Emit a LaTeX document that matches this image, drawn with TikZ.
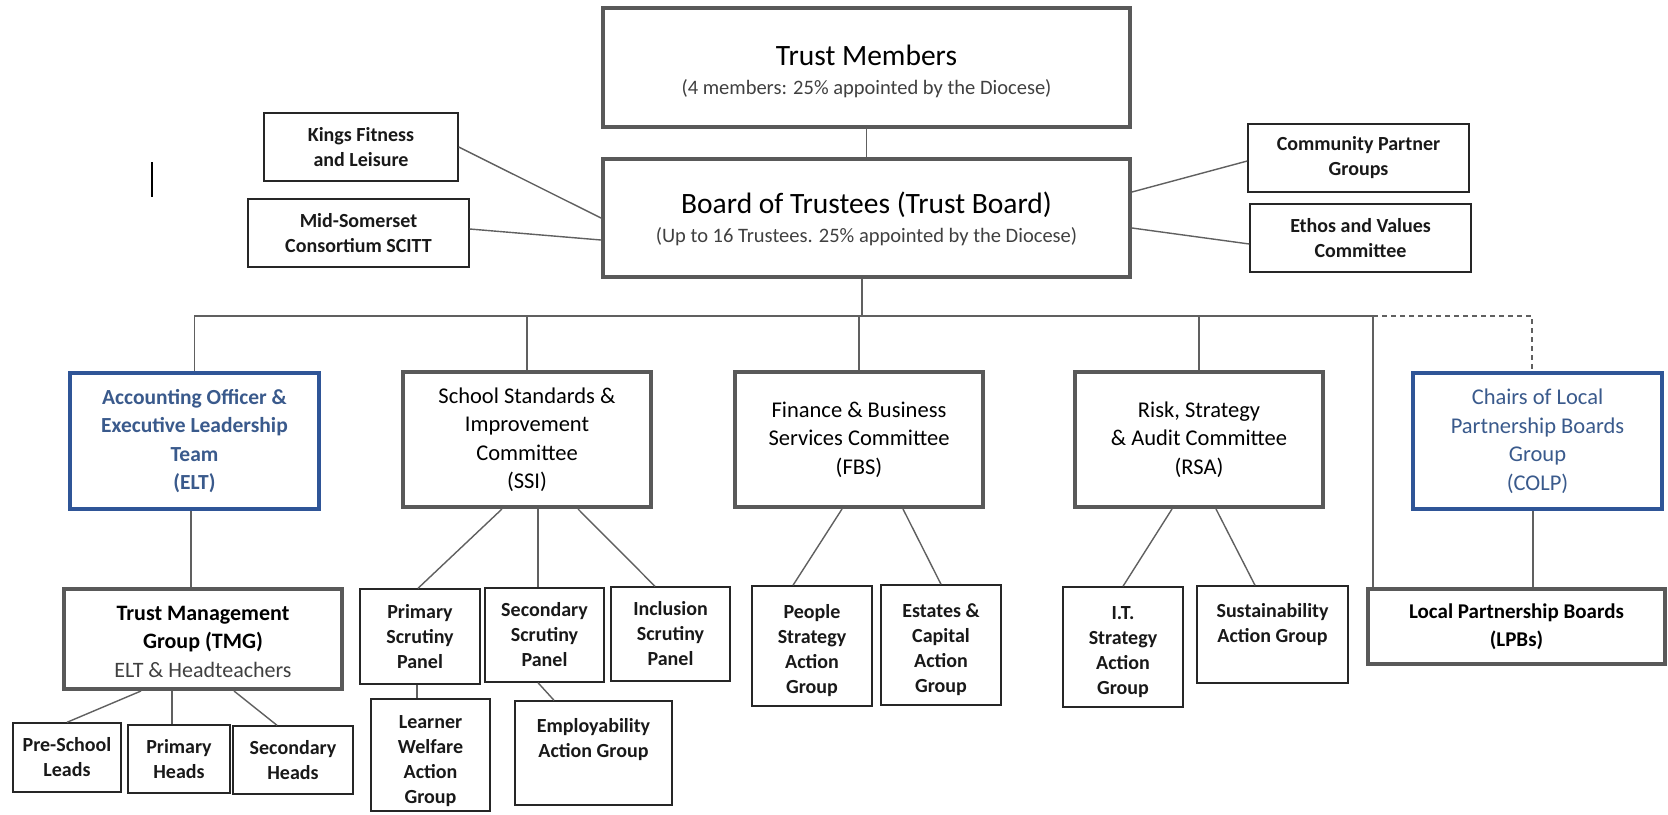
\documentclass[tikz,border=0pt]{standalone}
\usepackage{fontspec}
\setmainfont{Carlito}
\definecolor{boxgray}{HTML}{595959}
\definecolor{elblue}{HTML}{2F5597}
\definecolor{eltext}{HTML}{3A5A8C}
\definecolor{subgray}{HTML}{404040}
\definecolor{lineg}{HTML}{606060}
\begin{document}
\begin{tikzpicture}[x=1pt,y=-1pt,
  thickbox/.style={draw=boxgray, line width=4pt, inner sep=0pt, align=center, text=black},
  bluebox/.style={draw=elblue, line width=3.5pt, inner sep=0pt, align=center, text=eltext},
  smallbox/.style={draw=black!85, line width=1.4pt, inner sep=0pt, align=center, text=black!90, font=\bfseries\fontsize{20}{25}\selectfont},
  midfont/.style={font=\fontsize{22.5}{28.5}\selectfont},
  conn/.style={draw=lineg, line width=1.4pt},
  dashconn/.style={draw=lineg, line width=1.4pt, dashed, dash pattern=on 5pt off 4pt},
]
\useasboundingbox[fill=white] (0,0) rectangle (1668,814);

% top level
\node[thickbox, minimum width=527pt, minimum height=119pt, font=\fontsize{20.5}{29}\selectfont] (tm) at (866.5,67.5)
  {{\fontsize{29.5}{29}\selectfont\rule{0pt}{28pt}Trust Members}\\{\color{subgray}(4 members: 25\% appointed by the Diocese)}};
\node[thickbox, minimum width=527pt, minimum height=118pt, font=\fontsize{20.5}{29}\selectfont] (bot) at (866.5,218)
  {{\fontsize{29.5}{29}\selectfont\rule{0pt}{24pt}Board of Trustees (Trust Board)}\\{\color{subgray}(Up to 16 Trustees. 25\% appointed by the Diocese)}};

% side boxes
\node[smallbox, minimum width=194pt, minimum height=68pt] (kings) at (361,147) {Kings Fitness\\and Leisure};
\node[smallbox, minimum width=221pt, minimum height=68pt] (mid) at (358.5,233) {Mid-Somerset\\Consortium SCITT};
\node[smallbox, minimum width=221pt, minimum height=68pt] (comm) at (1358.5,158) {Community Partner\\Groups};
\node[smallbox, minimum width=221pt, minimum height=68pt] (ethos) at (1360.5,238) {Ethos and Values\\Committee};

% stray mark
\coordinate (strayA) at (152,162);
\coordinate (strayB) at (152,197);
\draw[black, line width=1.6pt] (strayA) -- (strayB);

% second level
\node[bluebox, minimum width=249pt, minimum height=136pt, font=\bfseries\fontsize{21.5}{28.5}\selectfont] (elt) at (194.5,441)
  {Accounting Officer \&\\Executive Leadership\\Team\\(ELT)};
\node[thickbox, midfont, minimum width=248pt, minimum height=135pt] (ssi) at (527,439.5)
  {School Standards \&\\Improvement\\Committee\\(SSI)};
\node[thickbox, midfont, minimum width=248pt, minimum height=135pt] (fbs) at (859,439.5)
  {Finance \& Business\\Services Committee\\(FBS)};
\node[thickbox, midfont, minimum width=248pt, minimum height=135pt] (rsa) at (1199,439.5)
  {Risk, Strategy\\\& Audit Committee\\(RSA)};
\node[bluebox, midfont, minimum width=249pt, minimum height=136pt] (colp) at (1537.5,441)
  {Chairs of Local\\Partnership Boards\\Group\\(COLP)};

% third level
\node[thickbox, minimum width=278pt, minimum height=100pt, font=\bfseries\fontsize{22}{28.5}\selectfont] (tmg) at (203,639)
  {\rule{0pt}{20pt}Trust Management\\Group (TMG)\\{\mdseries\color{subgray}ELT \& Headteachers}};
\node[smallbox, minimum width=108pt, minimum height=69pt] (pres) at (67,757.5) {Pre-School\\Leads};
\node[smallbox, minimum width=102pt, minimum height=68pt] (primh) at (179,759) {Primary\\Heads};
\node[smallbox, minimum width=120pt, minimum height=68pt] (sech) at (293,760) {Secondary\\Heads};

\node[smallbox, minimum width=120pt, minimum height=95pt] (psp) at (420,636.5) {Primary\\Scrutiny\\Panel};
\node[smallbox, minimum width=119pt, minimum height=94pt] (ssp) at (544.5,635) {Secondary\\Scrutiny\\Panel};
\node[smallbox, minimum width=119pt, minimum height=94pt] (isp) at (670.5,634) {Inclusion\\Scrutiny\\Panel};
\node[smallbox] (learn) at (430.5,755) {\parbox[c][112pt][t]{119pt}{\centering\vspace*{17pt}Learner\\Welfare\\Action\\Group}};
\node[smallbox] (employ) at (593.5,753) {\parbox[c][104pt][t]{157pt}{\centering\vspace*{17pt}Employability\\Action Group}};

\node[smallbox, minimum width=120pt, minimum height=120pt] (people) at (812,646) {\rule{0pt}{22.5pt}People\\Strategy\\Action\\Group};
\node[smallbox, minimum width=120pt, minimum height=120pt] (estates) at (941,645) {\rule{0pt}{22.5pt}Estates \&\\Capital\\Action\\Group};
\node[smallbox, minimum width=120pt, minimum height=120pt] (it) at (1123,647) {\rule{0pt}{22.5pt}I.T.\\Strategy\\Action\\Group};
\node[smallbox] (sust) at (1272.5,634.5) {\parbox[c][97pt][t]{151pt}{\centering\vspace*{17pt}Sustainability\\Action Group}};

\node[thickbox, minimum width=297pt, minimum height=75pt, font=\bfseries\fontsize{21}{28}\selectfont] (lpb) at (1516.5,626.5)
  {Local Partnership Boards\\(LPBs)};

% connectors, top
\draw[conn] (tm.south) -- (bot.north);
\draw[conn] (kings.east) -- (bot.west);
\draw[conn] ([yshift=4pt]mid.east) -- ([yshift=-22pt]bot.west);
\draw[conn] ([yshift=26pt]bot.east) -- ([yshift=-3pt]comm.west);
\draw[conn] ([yshift=-10pt]bot.east) -- ([yshift=-6pt]ethos.west);

% bus
\coordinate (busM) at (862,316);
\coordinate (busR) at (1373,316);
\coordinate (botS) at ([xshift=-4.5pt]bot.south);
\draw[conn] (botS) -- (busM);
\draw[conn] (elt.north) |- (busR) -- (busR |- lpb.north);
\draw[conn] (ssi.north) -- (ssi.north |- busR);
\draw[conn] (fbs.north) -- (fbs.north |- busR);
\draw[conn] (rsa.north) -- (rsa.north |- busR);
\coordinate (colpN) at ([xshift=-5.5pt]colp.north);
\draw[dashconn] (busR) -| (colpN);
\coordinate (colpS) at ([xshift=-4.5pt]colp.south);
\draw[conn] (colpS) -- (colpS |- lpb.north);

% ELT branch
\coordinate (eltS) at ([xshift=-3.5pt]elt.south);
\draw[conn] (eltS) -- (eltS |- tmg.north);
\draw[conn] ([xshift=-62pt]tmg.south) -- (pres.north);
\coordinate (tmgS) at ([xshift=-31pt]tmg.south);
\draw[conn] (tmgS) -- (tmgS |- primh.north);
\draw[conn] ([xshift=31pt]tmg.south) -- ([xshift=-16pt]sech.north);

% SSI branch
\draw[conn] ([xshift=-25pt]ssi.south) -- ([xshift=-2pt]psp.north);
\coordinate (ssiS) at ([xshift=11pt]ssi.south);
\draw[conn] (ssiS) -- (ssiS |- ssp.north);
\draw[conn] ([xshift=51pt]ssi.south) -- ([xshift=-15.5pt]isp.north);
\coordinate (pspS) at ([xshift=-3pt]psp.south);
\draw[conn] (pspS) -- (pspS |- learn.north);
\draw[conn] ([xshift=-6.5pt]ssp.south) -- ([xshift=-39.5pt]employ.north);

% FBS branch
\draw[conn] ([xshift=-17pt]fbs.south) -- ([xshift=-19pt]people.north);
\draw[conn] ([xshift=44pt]fbs.south) -- (estates.north);

% RSA branch
\draw[conn] ([xshift=-27pt]rsa.south) -- (it.north);
\draw[conn] ([xshift=17pt]rsa.south) -- ([xshift=-17.5pt]sust.north);
\end{tikzpicture}
\end{document}
